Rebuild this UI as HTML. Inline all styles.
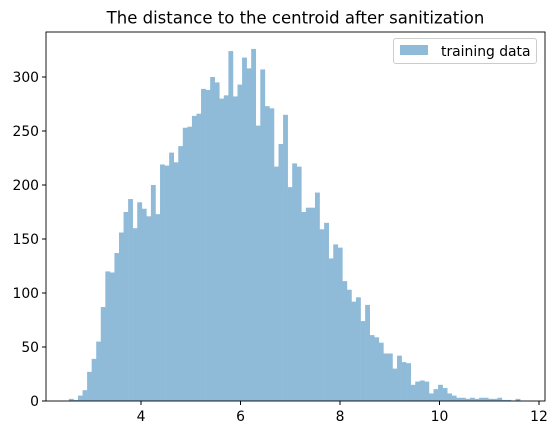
<!DOCTYPE html>
<html><head><meta charset="utf-8"><style>
body{margin:0;background:#fff;font-family:"DejaVu Sans","Liberation Sans",sans-serif}
</style></head><body>
<svg width="555" height="435" xmlns="http://www.w3.org/2000/svg" id="chart" font-family="DejaVu Sans, Liberation Sans, sans-serif">
<text x="295.5" y="23.5" font-size="16.5" text-anchor="middle" fill="#000">The distance to the centroid after sanitization</text>
<g id="bars"></g>
<g id="axes"></g>
<g>
<rect x="393.5" y="38.5" width="143" height="25" rx="2.5" fill="#fff" stroke="#ccc"/>
<rect x="400" y="45" width="28" height="10" fill="#8fbbd9"/>
<text x="441" y="56" font-size="13.9" fill="#000">training data</text>
</g>
</svg>
<script>
const counts=[2,1,5,10,27,39,55,87,120,119,137,156,175,187,160,184,178,171,200,173,219,218,230,221,236,253,254,264,266,289,288,300,295,280,283,324,282,293,318,308,326,255,307,273,271,217,238,265,198,220,217,175,179,179,193,159,165,132,145,142,111,103,92,96,74,89,61,59,54,44,44,30,42,36,35,15,18,19,18,7,11,15,12,7,5,3,3,2,3,2,3,3,2,2,3,1,1,0,2];
const binStart=2.55, binEnd=11.62;
const xTicks=[4,6,8,10,12];
const yTicks=[0,50,100,150,200,250,300];
const NS="http://www.w3.org/2000/svg";
const L=46,R=545,T=32,B=401;
const xs=v=>141+(v-4)*49.75;
const ys=v=>B-v*1.08;
const bars=document.getElementById('bars');
const w=(binEnd-binStart)/counts.length;
counts.forEach((c,i)=>{
 const r=document.createElementNS(NS,'rect');
 const x0=xs(binStart+i*w),x1=xs(binStart+(i+1)*w);
 r.setAttribute('x',x0);r.setAttribute('width',x1-x0+0.3);
 r.setAttribute('y',ys(c));r.setAttribute('height',B-ys(c));
 r.setAttribute('fill','#8fbbd9');
 
 
 bars.appendChild(r);
});
const ax=document.getElementById('axes');
const frame=document.createElementNS(NS,'rect');
frame.setAttribute('x',L);frame.setAttribute('y',T);frame.setAttribute('width',R-L);frame.setAttribute('height',B-T);
frame.setAttribute('fill','none');frame.setAttribute('stroke','#000');frame.setAttribute('stroke-width','0.9');


ax.appendChild(frame);
xTicks.forEach(t=>{
 const x=xs(t);
 const l=document.createElementNS(NS,'line');
 l.setAttribute('x1',x);l.setAttribute('x2',x);l.setAttribute('y1',B);l.setAttribute('y2',B+4);l.setAttribute('stroke','#000');
 
 
 ax.appendChild(l);
 const s=document.createElementNS(NS,'text');
 s.setAttribute('x',x);s.setAttribute('y',B+20);s.setAttribute('font-size','13.9');s.setAttribute('text-anchor','middle');
 s.textContent=t;
 
 
 ax.appendChild(s);
});
yTicks.forEach(t=>{
 const y=ys(t);
 const l=document.createElementNS(NS,'line');
 l.setAttribute('x1',L-4);l.setAttribute('x2',L);l.setAttribute('y1',y);l.setAttribute('y2',y);l.setAttribute('stroke','#000');
 
 
 ax.appendChild(l);
 const s=document.createElementNS(NS,'text');
 s.setAttribute('x',L-7);s.setAttribute('y',y+5);s.setAttribute('font-size','13.9');s.setAttribute('text-anchor','end');
 s.textContent=t;
 
 
 ax.appendChild(s);
});
</script>
</body></html>
